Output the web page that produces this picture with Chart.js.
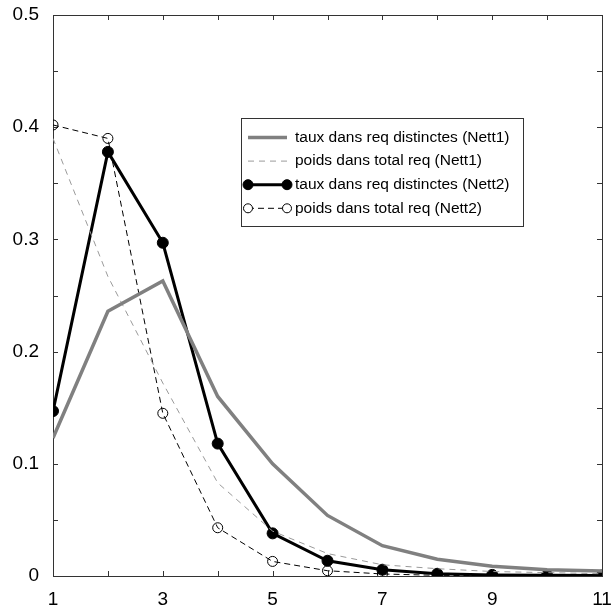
<!DOCTYPE html>
<html>
<head>
<meta charset="utf-8">
<script src="https://cdn.jsdelivr.net/npm/chart.js@4/dist/chart.umd.min.js"></script>
<style>
  html, body { margin: 0; padding: 0; background: #ffffff; }
  #chart { display: block; }
</style>
</head>
<body>
<canvas id="chart" width="611" height="608"></canvas>
<script>
// Données
const xValues = [1, 2, 3, 4, 5, 6, 7, 8, 9, 10, 11];
const tauxNett1 = [0.123, 0.236, 0.263, 0.160, 0.100, 0.054, 0.027, 0.015, 0.0086, 0.0056, 0.0045];
const poidsNett1 = [0.39, 0.267, 0.172, 0.083, 0.040, 0.020, 0.010, 0.0065, 0.004, 0.003, 0.002];
const tauxNett2 = [0.147, 0.378, 0.297, 0.118, 0.038, 0.0136, 0.0056, 0.002, 0.001, 0.0007, 0.0005];
const poidsNett2 = [0.402, 0.390, 0.145, 0.043, 0.013, 0.0047, 0.0018, 0.0006, 0.0002, 0.0001, 0.0001];

const seriesLabels = [
  'taux dans req distinctes (Nett1)',
  'poids dans total req (Nett1)',
  'taux dans req distinctes (Nett2)',
  'poids dans total req (Nett2)',
];

const FONT = 'Liberation Sans, Arial, sans-serif';

function toPoints(ys) {
  return xValues.map((x, i) => ({ x, y: ys[i] }));
}

/**
 * Cadre complet + graduations vers l'intérieur (4 côtés).
 */
const frameTicks = {
  id: 'frameTicks',
  beforeDatasetsDraw(chart) {
    const { ctx, chartArea: a, scales } = chart;
    const len = 5;
    ctx.save();
    ctx.strokeStyle = '#333333';
    ctx.lineWidth = 1;
    ctx.strokeRect(a.left + 0.5, a.top + 0.5, a.right - a.left, a.bottom - a.top);
    ctx.beginPath();
    scales.x.ticks.forEach((t) => {
      const px = Math.round(scales.x.getPixelForValue(t.value)) + 0.5;
      ctx.moveTo(px, a.bottom);
      ctx.lineTo(px, a.bottom - len);
      ctx.moveTo(px, a.top);
      ctx.lineTo(px, a.top + len);
    });
    scales.y.ticks.forEach((t) => {
      const py = Math.round(scales.y.getPixelForValue(t.value)) + 0.5;
      ctx.moveTo(a.left, py);
      ctx.lineTo(a.left + len, py);
      ctx.moveTo(a.right, py);
      ctx.lineTo(a.right - len, py);
    });
    ctx.stroke();
    ctx.restore();
  },
};

/**
 * Légende encadrée dans la zone du graphique.
 */
const boxLegend = {
  id: 'boxLegend',
  afterDatasetsDraw(chart) {
    const { ctx } = chart;
    const box = { left: 241.5, top: 118.5, right: 523.5, bottom: 226.5 };
    const rowY0 = 137.5;
    const rowStep = 23.6;
    const sx1 = 248;
    const sx2 = 287;
    const textX = 295;

    ctx.save();
    ctx.fillStyle = '#ffffff';
    ctx.fillRect(box.left, box.top, box.right - box.left, box.bottom - box.top);
    ctx.strokeStyle = '#333333';
    ctx.lineWidth = 1;
    ctx.strokeRect(box.left, box.top, box.right - box.left, box.bottom - box.top);

    chart.data.datasets.forEach((ds, i) => {
      const y = rowY0 + i * rowStep;
      ctx.save();
      ctx.strokeStyle = ds.borderColor;
      ctx.lineWidth = ds.borderWidth;
      ctx.setLineDash(ds.borderDash || []);
      ctx.beginPath();
      ctx.moveTo(sx1, y);
      ctx.lineTo(sx2, y);
      ctx.stroke();
      ctx.setLineDash([]);
      if (ds.pointRadius > 0) {
        [sx1, sx2].forEach((px) => {
          ctx.beginPath();
          ctx.arc(px, y, ds.pointRadius - 0.5, 0, Math.PI * 2);
          ctx.fillStyle = ds.pointBackgroundColor !== 'transparent' ? ds.pointBackgroundColor : '#ffffff';
          ctx.fill();
          ctx.lineWidth = ds.pointBorderWidth;
          ctx.strokeStyle = ds.pointBorderColor;
          ctx.stroke();
        });
      }
      ctx.restore();

      ctx.fillStyle = '#000000';
      ctx.font = '15.5px ' + FONT;
      ctx.textBaseline = 'middle';
      ctx.textAlign = 'left';
      ctx.fillText(ds.label, textX, y);
    });
    ctx.restore();
  },
};

new Chart(document.getElementById('chart').getContext('2d'), {
  type: 'line',
  data: {
    datasets: [
      {
        label: seriesLabels[0],
        data: toPoints(tauxNett1),
        borderColor: '#808080',
        borderWidth: 3.5,
        pointRadius: 0,
        fill: false,
      },
      {
        label: seriesLabels[1],
        data: toPoints(poidsNett1),
        borderColor: '#9a9a9a',
        borderWidth: 1,
        borderDash: [6, 5],
        pointRadius: 0,
        fill: false,
      },
      {
        label: seriesLabels[2],
        data: toPoints(tauxNett2),
        borderColor: '#000000',
        borderWidth: 3,
        pointRadius: 5.5,
        pointBackgroundColor: '#000000',
        pointBorderColor: '#000000',
        pointBorderWidth: 1,
        fill: false,
      },
      {
        label: seriesLabels[3],
        data: toPoints(poidsNett2),
        borderColor: '#000000',
        borderWidth: 1,
        borderDash: [6, 4],
        pointRadius: 5,
        pointBackgroundColor: 'transparent',
        pointBorderColor: '#000000',
        pointBorderWidth: 1,
        fill: false,
      },
    ],
  },
  options: {
    responsive: false,
    animation: false,
    devicePixelRatio: 1,
    layout: { padding: { top: 15, right: 9, left: 0, bottom: 0 } },
    elements: { line: { tension: 0 } },
    plugins: {
      legend: { display: false },
      tooltip: { enabled: false },
      title: { display: false },
    },
    scales: {
      x: {
        type: 'linear',
        min: 1,
        max: 11,
        grid: { display: false, drawTicks: false },
        border: { display: false },
        ticks: {
          stepSize: 1,
          autoSkip: false,
          maxRotation: 0,
          padding: 12,
          color: '#000000',
          font: { family: FONT, size: 19 },
          callback: (v) => (v % 2 === 1 ? String(v) : ''),
        },
        afterFit: (scale) => {
          scale.height = 32;
          scale.paddingLeft = 0;
          scale.paddingRight = 0;
        },
      },
      y: {
        min: 0,
        max: 0.5,
        grid: { display: false, drawTicks: false },
        border: { display: false },
        ticks: {
          stepSize: 0.05,
          autoSkip: false,
          padding: 14,
          color: '#000000',
          font: { family: FONT, size: 19 },
          callback: (v) => {
            const k = Math.round(v * 20);
            if (k % 2 !== 0) return '';
            return k === 0 ? '0' : (k / 20).toFixed(1);
          },
        },
        afterFit: (scale) => {
          scale.width = 53;
          scale.paddingTop = 0;
          scale.paddingBottom = 0;
        },
      },
    },
  },
  plugins: [frameTicks, boxLegend],
});
</script>
</body>
</html>
